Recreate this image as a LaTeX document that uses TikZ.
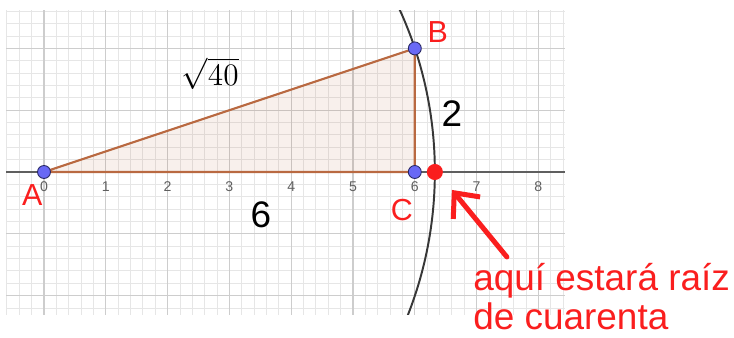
\documentclass[tikz,border=0pt]{standalone}
\usepackage{fontspec}
\setmainfont{Liberation Sans}
\usetikzlibrary{arrows.meta}
\definecolor{poligono}{RGB}{185,105,65}
\definecolor{punto}{RGB}{105,105,245}
\definecolor{bordepunto}{RGB}{40,40,100}
\definecolor{rojo}{RGB}{250,30,30}
\definecolor{rejilla}{RGB}{205,205,205}
\definecolor{subrejilla}{RGB}{230,230,230}
\definecolor{ejecol}{RGB}{95,95,95}
\definecolor{arcocol}{RGB}{55,55,55}

\begin{document}
\begin{tikzpicture}[x=1cm, y=1cm,
  vertice/.style={circle, fill=punto, draw=bordepunto, line width=0.4pt, minimum size=0.21cm, inner sep=0pt},
  raiz/.style={circle, fill=rojo, minimum size=0.26cm, inner sep=0pt},
  etiqueta/.style={text=rojo, font=\fontsize{14}{14}\selectfont, inner sep=0pt},
  medida/.style={font=\fontsize{17}{17}\selectfont, inner sep=0pt},
  marca/.style={text=ejecol, font=\fontsize{6.5}{6.5}\selectfont, inner sep=0pt},
  nota/.style={text=rojo, align=left, font=\fontsize{17}{17.8}\selectfont, inner sep=0pt},
  lado/.style={draw=poligono, line width=1pt, fill=poligono, fill opacity=0.1},
  flecha/.style={rojo, line width=2.3pt, line cap=round, -{Straight Barb[length=9pt,width=16pt]}}]
  \useasboundingbox (-0.712,-2.686) rectangle (11.165,2.783);
  \draw[subrejilla, line width=0.4pt, step=0.2] (-0.61,-2.31) grid (8.43,2.62);
  \draw[rejilla, line width=0.5pt, step=1] (-0.61,-2.31) grid (8.43,2.62);
  \draw[ejecol, line width=0.8pt] (-0.61,0) -- (8.43,0);
  \foreach \x in {0,...,8} \node[marca] (m\x) at (\x,-0.24) {\x};
  \begin{scope}
    \clip (-0.61,-2.31) rectangle (8.43,2.62);
    \draw[arcocol, line width=0.9pt] (0,0) circle[radius={sqrt(40)}];
  \end{scope}
  \coordinate (A) at (0,0);
  \coordinate (B) at (6,2);
  \coordinate (C) at (6,0);
  \coordinate (R) at ({sqrt(40)},0);
  \filldraw[lado] (A) -- (B) -- (C) -- cycle;
  \foreach \p in {A,B,C} \node[vertice] (p\p) at (\p) {};
  \node[raiz] (pR) at (R) {};
  \node[etiqueta] (lA) at (-0.19,-0.38) {A};
  \node[etiqueta] (lB) at (6.37,2.26) {B};
  \node[etiqueta] (lC) at (5.79,-0.61) {C};
  \node[font=\fontsize{15}{15}\selectfont, inner sep=0pt] (hip) at (2.69,1.59) {$\sqrt{40}$};
  \node[medida] (base) at (3.51,-0.70) {6};
  \node[medida] (alto) at (6.60,0.95) {2};
  \node[nota, anchor=north west] (texto) at (6.94,-1.47) {aquí estará raíz\\de cuarenta};
  \coordinate (cola) at (7.49,-1.375);
  \coordinate (punta) at (6.60,-0.29);
  \draw[flecha] (cola) -- (punta);
\end{tikzpicture}
\end{document}
